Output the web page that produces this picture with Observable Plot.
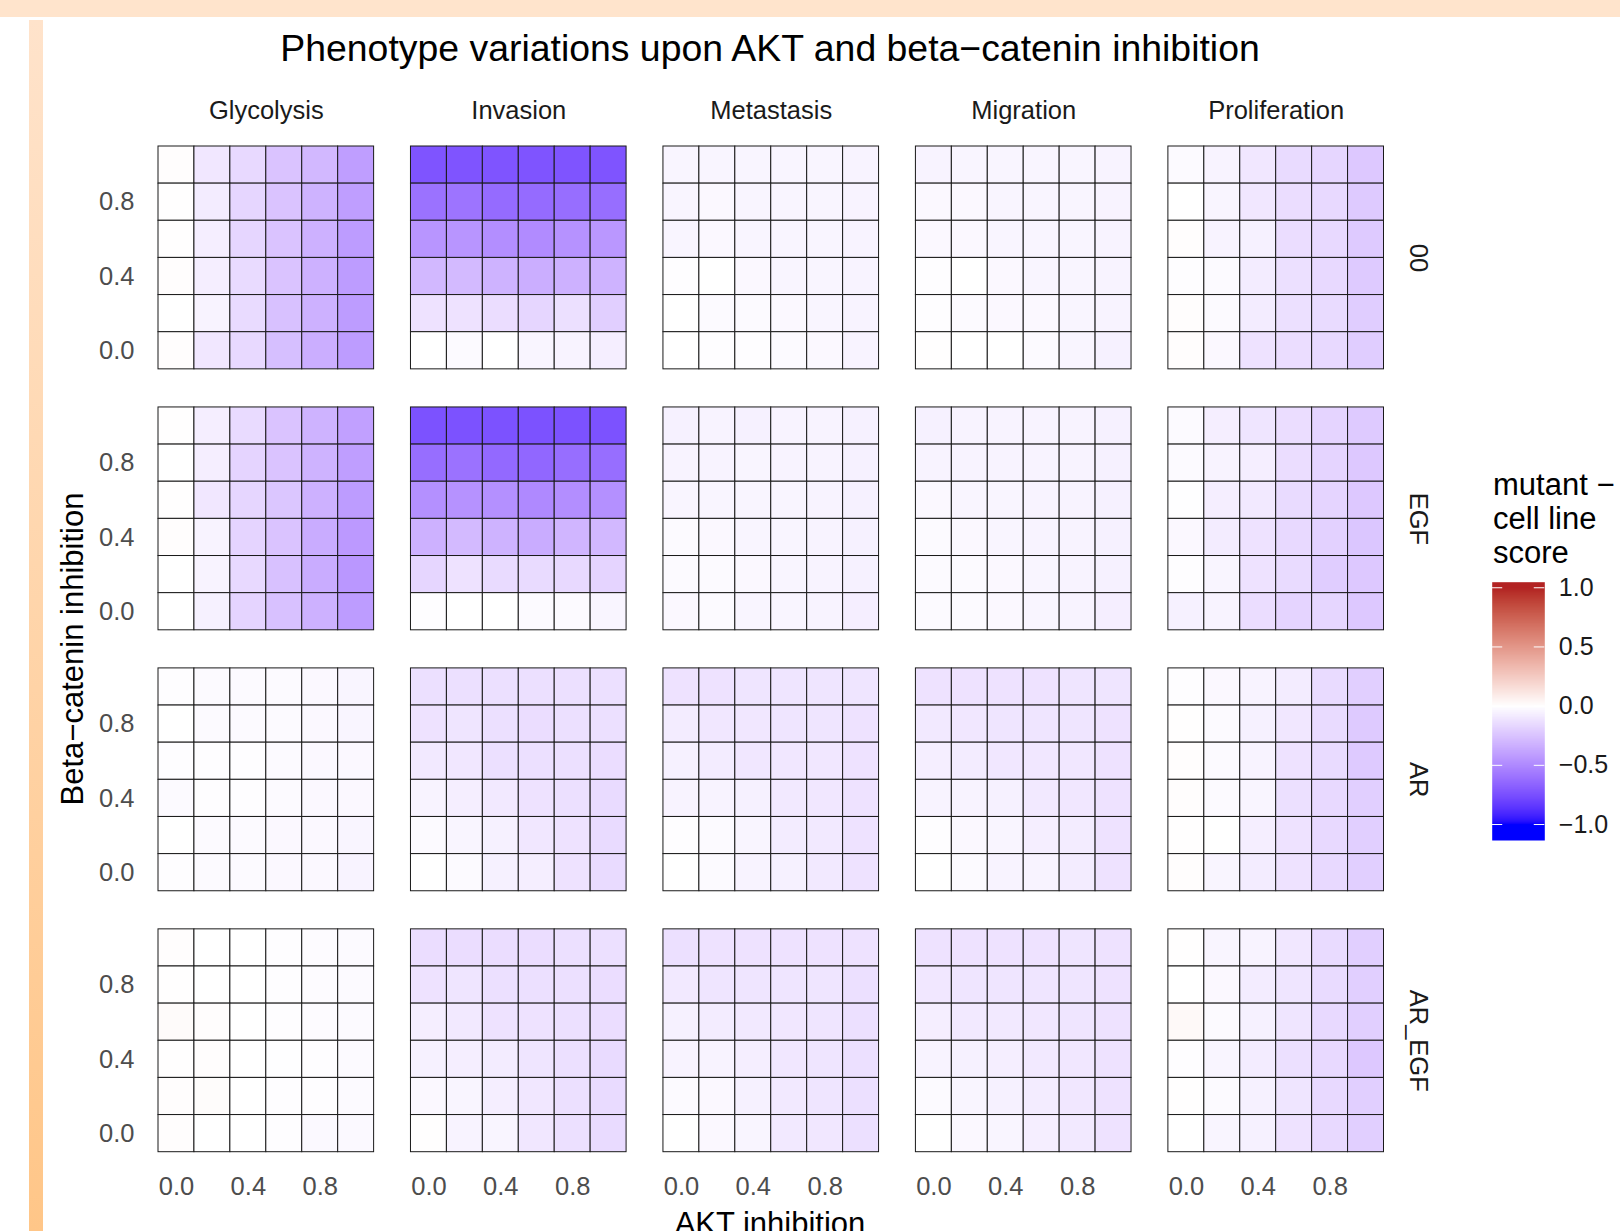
<!DOCTYPE html>
<html>
<head>
<meta charset="utf-8">
<script src="https://cdn.jsdelivr.net/npm/d3@7"></script>
<script src="https://cdn.jsdelivr.net/npm/@observablehq/plot@0.6"></script>
<style>
  html, body { margin: 0; padding: 0; background: #ffffff; }
  body { width: 1620px; height: 1231px; overflow: hidden; position: relative; font-family: "Liberation Sans", Arial, sans-serif; }
  #topband { position: absolute; left: 0; top: 0; width: 1620px; height: 17px; background: #FFE4CC; }
  #leftband { position: absolute; left: 29px; top: 20px; width: 14px; height: 1211px; background: linear-gradient(#FFE3CB, #FFC688); }
  #main, #legend, #overlay { position: absolute; }
  #main { left: 0; top: 0; }
  #legend { left: 1440px; top: 560px; }
  #overlay { left: 0; top: 0; }
  g[aria-label^="fx-axis"], g[aria-label^="fx-axis"] text,
  g[aria-label^="fy-axis"], g[aria-label^="fy-axis"] text { fill: #1a1a1a; }
</style>
</head>
<body>
<div id="topband"></div>
<div id="leftband"></div>
<div id="main"></div>
<div id="legend"></div>
<svg id="overlay" width="1620" height="1231"></svg>
<script>
// ---------- categories & tick labels ----------
const phenotypes = ["Glycolysis", "Invasion", "Metastasis", "Migration", "Proliferation"];
const conditions = ["00", "EGF", "AR", "AR_EGF"];
const aktLevels = [0, 0.2, 0.4, 0.6, 0.8, 1.0];          // x: AKT inhibition
const betaLevels = [1.0, 0.8, 0.6, 0.4, 0.2, 0];         // y: beta-catenin inhibition (top row first)
const xTickLabels = [0, 0.4, 0.8];
const yTickLabels = [0, 0.4, 0.8];
const legendTicks = [-1, -0.5, 0, 0.5, 1];

// ---------- scores (rows: beta 1.0 -> 0.0, columns: AKT 0.0 -> 1.0) ----------
// condition 00
const glycolysis00 = [
  [0.01, -0.10, -0.16, -0.25, -0.30, -0.41],
  [0.005, -0.08, -0.17, -0.25, -0.32, -0.41],
  [0.005, -0.07, -0.17, -0.25, -0.33, -0.42],
  [0.01, -0.07, -0.15, -0.25, -0.33, -0.42],
  [0, -0.05, -0.15, -0.26, -0.33, -0.42],
  [0.01, -0.10, -0.16, -0.27, -0.34, -0.42]];
const invasion00 = [
  [-0.73, -0.73, -0.73, -0.73, -0.73, -0.73],
  [-0.60, -0.59, -0.63, -0.63, -0.62, -0.62],
  [-0.45, -0.45, -0.48, -0.49, -0.46, -0.44],
  [-0.30, -0.29, -0.32, -0.34, -0.33, -0.32],
  [-0.12, -0.12, -0.14, -0.17, -0.13, -0.20],
  [0, -0.02, 0, -0.04, -0.05, -0.07]];
const metastasis00 = [
  [-0.04, -0.04, -0.04, -0.04, -0.04, -0.05],
  [-0.04, -0.03, -0.04, -0.04, -0.04, -0.05],
  [-0.04, -0.03, -0.04, -0.04, -0.04, -0.05],
  [-0.01, 0, -0.03, -0.04, -0.04, -0.05],
  [0, -0.02, -0.02, -0.03, -0.04, -0.05],
  [0, -0.01, -0.01, -0.02, -0.03, -0.05]];
const migration00 = [
  [-0.05, -0.04, -0.04, -0.04, -0.04, -0.05],
  [-0.03, -0.03, -0.04, -0.04, -0.04, -0.05],
  [-0.03, -0.03, -0.04, -0.04, -0.04, -0.05],
  [-0.01, 0, -0.03, -0.04, -0.04, -0.05],
  [-0.01, -0.02, -0.03, -0.03, -0.04, -0.05],
  [0.005, 0, 0, -0.02, -0.04, -0.06]];
const proliferation00 = [
  [-0.02, -0.05, -0.10, -0.15, -0.17, -0.23],
  [0, -0.04, -0.10, -0.14, -0.16, -0.22],
  [0.01, -0.05, -0.06, -0.14, -0.16, -0.22],
  [-0.01, -0.02, -0.08, -0.13, -0.16, -0.22],
  [0.01, -0.02, -0.08, -0.13, -0.15, -0.21],
  [0.01, -0.03, -0.12, -0.14, -0.16, -0.21]];
// condition EGF
const glycolysisEGF = [
  [0.005, -0.07, -0.15, -0.25, -0.32, -0.40],
  [0, -0.07, -0.18, -0.25, -0.32, -0.41],
  [0.005, -0.10, -0.17, -0.24, -0.33, -0.42],
  [0.01, -0.05, -0.18, -0.25, -0.35, -0.43],
  [0, -0.05, -0.16, -0.26, -0.35, -0.44],
  [0, -0.06, -0.18, -0.26, -0.33, -0.42]];
const invasionEGF = [
  [-0.74, -0.74, -0.74, -0.74, -0.74, -0.74],
  [-0.62, -0.60, -0.64, -0.65, -0.62, -0.62],
  [-0.47, -0.46, -0.47, -0.50, -0.48, -0.47],
  [-0.33, -0.29, -0.32, -0.35, -0.31, -0.30],
  [-0.17, -0.12, -0.15, -0.15, -0.16, -0.18],
  [-0.01, 0, 0, -0.02, -0.02, -0.04]];
const metastasisEGF = [
  [-0.06, -0.05, -0.06, -0.05, -0.05, -0.06],
  [-0.05, -0.05, -0.04, -0.05, -0.05, -0.06],
  [-0.04, -0.04, -0.04, -0.04, -0.05, -0.06],
  [-0.02, -0.03, -0.04, -0.04, -0.05, -0.06],
  [-0.02, -0.02, -0.03, -0.04, -0.05, -0.06],
  [-0.03, -0.02, -0.04, -0.04, -0.05, -0.07]];
const migrationEGF = [
  [-0.06, -0.05, -0.05, -0.05, -0.05, -0.06],
  [-0.05, -0.05, -0.05, -0.05, -0.05, -0.06],
  [-0.03, -0.04, -0.04, -0.05, -0.05, -0.06],
  [-0.02, -0.03, -0.04, -0.05, -0.05, -0.06],
  [-0.02, -0.02, -0.03, -0.04, -0.05, -0.06],
  [-0.02, -0.02, -0.03, -0.04, -0.05, -0.07]];
const proliferationEGF = [
  [-0.02, -0.07, -0.11, -0.14, -0.18, -0.22],
  [-0.02, -0.05, -0.07, -0.14, -0.18, -0.23],
  [-0.005, -0.07, -0.09, -0.15, -0.18, -0.23],
  [-0.03, -0.08, -0.12, -0.16, -0.19, -0.24],
  [-0.01, -0.04, -0.12, -0.15, -0.21, -0.23],
  [-0.06, -0.05, -0.14, -0.18, -0.17, -0.23]];
// condition AR
const glycolysisAR = [
  [-0.01, -0.02, -0.02, -0.02, -0.03, -0.04],
  [0, -0.02, -0.02, -0.02, -0.03, -0.04],
  [-0.01, -0.01, -0.01, -0.02, -0.03, -0.03],
  [-0.02, -0.01, -0.01, -0.02, -0.03, -0.03],
  [0, -0.02, -0.02, -0.03, -0.03, -0.04],
  [-0.01, -0.02, -0.02, -0.03, -0.03, -0.05]];
const invasionAR = [
  [-0.13, -0.13, -0.13, -0.13, -0.13, -0.13],
  [-0.12, -0.11, -0.13, -0.14, -0.13, -0.13],
  [-0.09, -0.10, -0.13, -0.13, -0.13, -0.14],
  [-0.05, -0.07, -0.09, -0.12, -0.13, -0.15],
  [-0.02, -0.04, -0.06, -0.10, -0.12, -0.15],
  [0, -0.02, -0.06, -0.07, -0.12, -0.15]];
const metastasisAR = [
  [-0.12, -0.12, -0.11, -0.11, -0.11, -0.11],
  [-0.08, -0.10, -0.10, -0.11, -0.11, -0.12],
  [-0.06, -0.08, -0.10, -0.10, -0.10, -0.12],
  [-0.05, -0.05, -0.06, -0.09, -0.10, -0.12],
  [-0.01, -0.02, -0.04, -0.08, -0.09, -0.12],
  [0, -0.02, -0.05, -0.06, -0.09, -0.12]];
const migrationAR = [
  [-0.12, -0.12, -0.12, -0.12, -0.11, -0.11],
  [-0.09, -0.10, -0.11, -0.11, -0.11, -0.12],
  [-0.07, -0.08, -0.10, -0.10, -0.10, -0.12],
  [-0.05, -0.05, -0.06, -0.09, -0.10, -0.12],
  [-0.01, -0.03, -0.04, -0.07, -0.08, -0.12],
  [0, -0.02, -0.05, -0.05, -0.08, -0.12]];
const proliferationAR = [
  [-0.01, -0.03, -0.05, -0.08, -0.15, -0.20],
  [0.005, -0.02, -0.06, -0.10, -0.15, -0.22],
  [0.01, -0.02, -0.05, -0.12, -0.15, -0.22],
  [0.01, -0.02, -0.04, -0.13, -0.16, -0.20],
  [0.005, 0, -0.07, -0.12, -0.16, -0.20],
  [0.01, -0.04, -0.08, -0.12, -0.16, -0.20]];
// condition AR_EGF
const glycolysisAR_EGF = [
  [0.01, 0, 0, -0.01, -0.015, -0.02],
  [0.005, 0, 0, -0.01, -0.015, -0.02],
  [0.02, 0.01, 0, -0.01, -0.015, -0.02],
  [0.005, 0.01, 0, -0.005, -0.01, -0.02],
  [0.01, 0.015, 0, -0.01, -0.01, -0.02],
  [0.01, 0, 0, -0.01, -0.025, -0.025]];
const invasionAR_EGF = [
  [-0.14, -0.14, -0.14, -0.14, -0.13, -0.13],
  [-0.12, -0.11, -0.13, -0.13, -0.13, -0.14],
  [-0.07, -0.09, -0.12, -0.12, -0.13, -0.14],
  [-0.06, -0.07, -0.08, -0.11, -0.13, -0.15],
  [-0.03, -0.04, -0.07, -0.10, -0.13, -0.15],
  [0.005, -0.05, -0.04, -0.10, -0.13, -0.15]];
const metastasisAR_EGF = [
  [-0.13, -0.12, -0.12, -0.12, -0.12, -0.12],
  [-0.09, -0.11, -0.11, -0.11, -0.11, -0.13],
  [-0.06, -0.08, -0.09, -0.10, -0.11, -0.13],
  [-0.05, -0.05, -0.07, -0.10, -0.11, -0.13],
  [-0.02, -0.03, -0.06, -0.09, -0.11, -0.13],
  [0, -0.03, -0.04, -0.09, -0.10, -0.13]];
const migrationAR_EGF = [
  [-0.12, -0.12, -0.12, -0.12, -0.11, -0.12],
  [-0.10, -0.11, -0.11, -0.11, -0.11, -0.12],
  [-0.07, -0.09, -0.09, -0.10, -0.11, -0.12],
  [-0.05, -0.06, -0.07, -0.09, -0.10, -0.12],
  [-0.02, -0.04, -0.06, -0.08, -0.10, -0.12],
  [0, -0.03, -0.04, -0.07, -0.09, -0.12]];
const proliferationAR_EGF = [
  [0.005, -0.04, -0.05, -0.10, -0.15, -0.20],
  [0, -0.03, -0.08, -0.11, -0.15, -0.20],
  [0.03, -0.02, -0.06, -0.11, -0.16, -0.20],
  [-0.01, -0.04, -0.08, -0.13, -0.16, -0.23],
  [0.005, -0.02, -0.06, -0.11, -0.16, -0.20],
  [0, -0.04, -0.06, -0.12, -0.16, -0.20]];

// ---------- build the long table ----------
const grids = {
  "Glycolysis":    {"00": glycolysis00,    "EGF": glycolysisEGF,    "AR": glycolysisAR,    "AR_EGF": glycolysisAR_EGF},
  "Invasion":      {"00": invasion00,      "EGF": invasionEGF,      "AR": invasionAR,      "AR_EGF": invasionAR_EGF},
  "Metastasis":    {"00": metastasis00,    "EGF": metastasisEGF,    "AR": metastasisAR,    "AR_EGF": metastasisAR_EGF},
  "Migration":     {"00": migration00,     "EGF": migrationEGF,     "AR": migrationAR,     "AR_EGF": migrationAR_EGF},
  "Proliferation": {"00": proliferation00, "EGF": proliferationEGF, "AR": proliferationAR, "AR_EGF": proliferationAR_EGF}
};
const table = [];
for (const phenotype of phenotypes) {
  for (const condition of conditions) {
    const grid = grids[phenotype][condition];
    betaLevels.forEach((beta, i) => {
      aktLevels.forEach((akt, j) => {
        table.push({phenotype, condition, akt, beta, score: grid[i][j]});
      });
    });
  }
}

const colorOptions = {
  type: "linear",
  domain: [-1, 0, 1],
  range: ["blue", "white", "firebrick"],
  interpolate: "lab",
  clamp: true
};
const fmt1 = d3.format(".1f");

// ---------- main faceted heatmap ----------
const main = Plot.plot({
  width: 1620,
  height: 1231,
  marginLeft: 158,
  marginRight: 236.5,
  marginTop: 146,
  marginBottom: 79.3,
  style: {
    fontFamily: "'Liberation Sans', Arial, sans-serif",
    fontSize: "25.5px",
    color: "#4d4d4d",
    background: "transparent",
    overflow: "visible"
  },
  facet: {data: table, x: "phenotype", y: "condition", marginTop: 0, marginRight: 0, marginBottom: 0, marginLeft: 0},
  fx: {domain: phenotypes, paddingInner: 0.146, paddingOuter: 0, round: false, axis: "top", tickSize: 0, tickPadding: 28, label: null},
  fy: {domain: conditions, paddingInner: 0.146, paddingOuter: 0, round: false, axis: "right", tickSize: 0, tickPadding: 44.5, tickRotate: 90, label: null},
  x: {type: "band", domain: aktLevels, padding: 0, round: false, tickSize: 0, tickPadding: 25,
      tickFormat: d => xTickLabels.includes(d) ? fmt1(d) : "", label: null},
  y: {type: "band", domain: betaLevels, padding: 0, round: false, tickSize: 0, tickPadding: 24,
      tickFormat: d => yTickLabels.includes(d) ? fmt1(d) : "", label: null},
  color: colorOptions,
  marks: [
    Plot.cell(table, {x: "akt", y: "beta", fill: "score", stroke: "#1a1a1a", strokeWidth: 1, inset: 0})
  ]
});
document.getElementById("main").appendChild(main);

// ---------- vertical colour-bar legend ----------
const legend = Plot.plot({
  width: 180,
  height: 300,
  marginLeft: 51.7,
  marginRight: 75.7,
  marginTop: 21.7,
  marginBottom: 20,
  style: {
    fontFamily: "'Liberation Sans', Arial, sans-serif",
    fontSize: "25px",
    color: "#1a1a1a",
    background: "transparent",
    overflow: "visible"
  },
  x: {domain: [0, 1], axis: null},
  y: {domain: [-1.135, 1.047], axis: "right", ticks: legendTicks, tickSize: 0, tickPadding: 14, tickFormat: fmt1, label: null},
  color: colorOptions,
  marks: [
    Plot.raster({x1: 0, x2: 1, y1: -1.135, y2: 1.047, width: 1, height: 400, fill: (x, y) => y}),
    Plot.ruleY(legendTicks, {x1: 0, x2: 0.2, stroke: "white", strokeWidth: 1}),
    Plot.ruleY(legendTicks, {x1: 0.8, x2: 1, stroke: "white", strokeWidth: 1})
  ]
});
document.getElementById("legend").appendChild(legend);

// ---------- titles ----------
const overlay = d3.select("#overlay")
  .style("font-family", "'Liberation Sans', Arial, sans-serif");
overlay.append("text")
  .attr("x", 770).attr("y", 61).attr("text-anchor", "middle")
  .attr("font-size", 37.4).attr("fill", "#000")
  .text("Phenotype variations upon AKT and beta\u2212catenin inhibition");
overlay.append("text")
  .attr("transform", "translate(83,649) rotate(-90)").attr("text-anchor", "middle")
  .attr("font-size", 31).attr("fill", "#000")
  .text("Beta\u2212catenin inhibition");
overlay.append("text")
  .attr("x", 770).attr("y", 1234).attr("text-anchor", "middle")
  .attr("font-size", 31).attr("fill", "#000")
  .text("AKT inhibition");
const legendTitle = ["mutant \u2212", "cell line", "score"];
legendTitle.forEach((line, i) => {
  overlay.append("text")
    .attr("x", 1493).attr("y", 495 + 34 * i)
    .attr("font-size", 31).attr("fill", "#000")
    .text(line);
});
</script>
</body>
</html>
